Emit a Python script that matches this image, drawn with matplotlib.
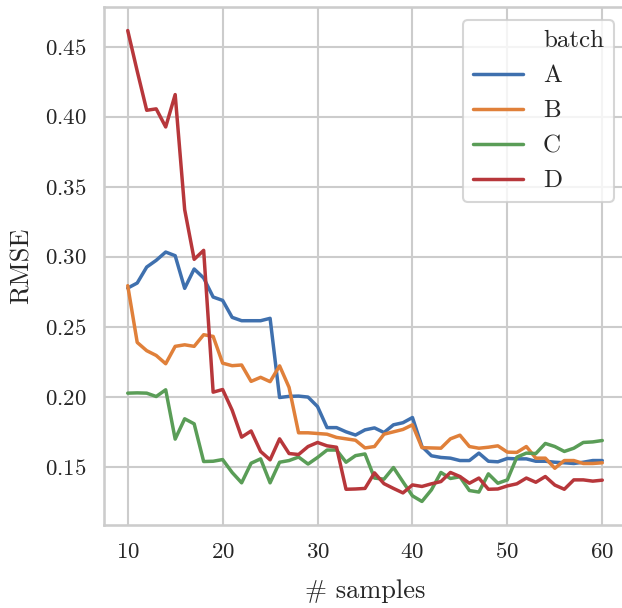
import numpy as np
import matplotlib
matplotlib.use("Agg")
import matplotlib.pyplot as plt
from matplotlib.lines import Line2D
import seaborn as sns

# ==== DATA ====
samples = list(range(10, 61))

rmse_a = [0.2776, 0.2812, 0.2926, 0.2974, 0.3033, 0.3007, 0.2774, 0.2912, 0.2848, 0.2712,
          0.2688, 0.2567, 0.2543, 0.2543, 0.2543, 0.2560, 0.1995, 0.2003, 0.2005, 0.1998,
          0.1930, 0.1780, 0.1780, 0.1750, 0.1727, 0.1764, 0.1778, 0.1745, 0.1800, 0.1815,
          0.1852, 0.1645, 0.1579, 0.1567, 0.1562, 0.1545, 0.1545, 0.1598, 0.1540, 0.1536,
          0.1560, 0.1557, 0.1557, 0.1540, 0.1540, 0.1533, 0.1529, 0.1524, 0.1533, 0.1545,
          0.1545]
rmse_b = [0.2793, 0.2388, 0.2329, 0.2295, 0.2236, 0.2360, 0.2371, 0.2360, 0.2443, 0.2431,
          0.2240, 0.2222, 0.2227, 0.2110, 0.2139, 0.2108, 0.2221, 0.2067, 0.1743, 0.1743,
          0.1738, 0.1733, 0.1710, 0.1700, 0.1690, 0.1635, 0.1645, 0.1733, 0.1750, 0.1767,
          0.1800, 0.1637, 0.1635, 0.1633, 0.1700, 0.1726, 0.1645, 0.1633, 0.1640, 0.1650,
          0.1605, 0.1603, 0.1645, 0.1562, 0.1562, 0.1490, 0.1545, 0.1545, 0.1524, 0.1524,
          0.1529]
rmse_c = [0.2026, 0.2028, 0.2026, 0.2002, 0.2050, 0.1698, 0.1843, 0.1807, 0.1538, 0.1540,
          0.1552, 0.1460, 0.1386, 0.1526, 0.1557, 0.1386, 0.1533, 0.1545, 0.1570, 0.1520,
          0.1567, 0.1620, 0.1620, 0.1533, 0.1580, 0.1592, 0.1420, 0.1412, 0.1495, 0.1393,
          0.1293, 0.1253, 0.1336, 0.1460, 0.1417, 0.1429, 0.1331, 0.1320, 0.1450, 0.1383,
          0.1407, 0.1569, 0.1598, 0.1595, 0.1667, 0.1645, 0.1610, 0.1633, 0.1674, 0.1678,
          0.1688]
rmse_d = [0.4614, 0.4324, 0.4045, 0.4055, 0.3926, 0.4157, 0.3336, 0.2981, 0.3045, 0.2033,
          0.2052, 0.1905, 0.1712, 0.1756, 0.1610, 0.1550, 0.1700, 0.1595, 0.1588, 0.1645,
          0.1674, 0.1650, 0.1640, 0.1340, 0.1342, 0.1346, 0.1457, 0.1380, 0.1346, 0.1314,
          0.1371, 0.1360, 0.1379, 0.1395, 0.1460, 0.1431, 0.1383, 0.1420, 0.1340, 0.1342,
          0.1364, 0.1379, 0.1420, 0.1390, 0.1431, 0.1370, 0.1340, 0.1407, 0.1407, 0.1398,
          0.1405]

batches = ["A", "B", "C", "D"]
series = [rmse_a, rmse_b, rmse_c, rmse_d]
colors = ["#3f70ae", "#e0803a", "#5a9d57", "#b7373b"]

# ==== STYLE ====
sns.set_theme(context="talk", style="whitegrid")
plt.rcParams["font.family"] = ["cmr10", "DejaVu Serif"]
plt.rcParams["mathtext.fontset"] = "cm"
plt.rcParams["axes.formatter.use_mathtext"] = True

fig = plt.figure(figsize=(6.22, 6.08), dpi=100)
ax = fig.add_axes([104 / 622, 83 / 608, 522 / 622, 518 / 608])

for name, vals, col in zip(batches, series, colors):
    ax.plot(samples, vals, color=col, lw=2.5, label=name)

ax.set_xlim(7.5, 62.5)
ax.set_xlabel("# samples", fontsize=19, labelpad=12)
ax.set_ylabel("RMSE", fontsize=19, labelpad=8)

# legend with hue title as first (blank) entry, like older seaborn
handles = [Line2D([], [], color="none")] + [
    Line2D([], [], color=c, lw=2.5) for c in colors]
labels = ["batch"] + batches
ax.legend(handles, labels, loc="upper right", bbox_to_anchor=(0.977, 0.975),
          fontsize=18, borderaxespad=0)

fig.savefig("out.png", dpi=100)
plt.close(fig)
print("Saved: out.png")
